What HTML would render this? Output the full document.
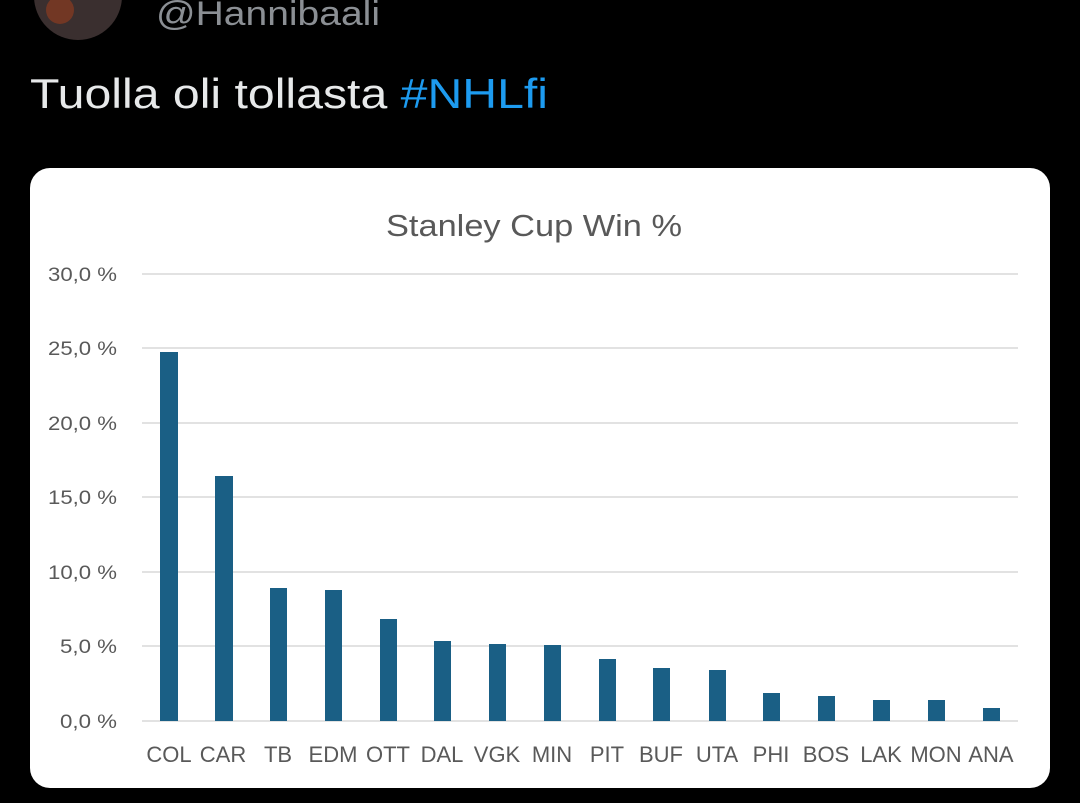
<!DOCTYPE html>
<html><head><meta charset="utf-8"><style>
html,body{margin:0;padding:0;background:#000;width:1080px;height:803px;overflow:hidden}
</style></head><body>
<svg width="1080" height="803" viewBox="0 0 1080 803" xmlns="http://www.w3.org/2000/svg" font-family="Liberation Sans, sans-serif">
<rect width="1080" height="803" fill="#000"/>
<circle cx="78" cy="-4" r="44" fill="#3a2f2f"/>
<circle cx="60" cy="10" r="14" fill="#8a3a20" opacity="0.7"/>
<text x="156" y="25" font-size="34" fill="#8b8f94" textLength="224" lengthAdjust="spacingAndGlyphs">@Hannibaali</text>
<text x="30" y="108" font-size="42" fill="#e7e9ea" textLength="518" lengthAdjust="spacingAndGlyphs">Tuolla oli tollasta <tspan fill="#1d9bf0">#NHLfi</tspan></text>
<rect x="30" y="168" width="1020" height="620" rx="20" fill="#fff"/>
<text x="386" y="236" font-size="31" fill="#595959" textLength="296" lengthAdjust="spacingAndGlyphs">Stanley Cup Win %</text>
<g stroke="#d9d9d9" stroke-width="1.5">
<line x1="142" x2="1018" y1="274" y2="274"/><line x1="142" x2="1018" y1="348" y2="348"/>
<line x1="142" x2="1018" y1="423" y2="423"/><line x1="142" x2="1018" y1="497" y2="497"/>
<line x1="142" x2="1018" y1="572" y2="572"/><line x1="142" x2="1018" y1="646" y2="646"/>
<line x1="142" x2="1018" y1="721" y2="721"/>
</g>
<g font-size="19" fill="#595959">
<text x="48" y="281" textLength="69" lengthAdjust="spacingAndGlyphs">30,0 %</text>
<text x="48" y="355" textLength="69" lengthAdjust="spacingAndGlyphs">25,0 %</text>
<text x="48" y="430" textLength="69" lengthAdjust="spacingAndGlyphs">20,0 %</text>
<text x="48" y="504" textLength="69" lengthAdjust="spacingAndGlyphs">15,0 %</text>
<text x="48" y="579" textLength="69" lengthAdjust="spacingAndGlyphs">10,0 %</text>
<text x="60" y="653" textLength="57" lengthAdjust="spacingAndGlyphs">5,0 %</text>
<text x="60" y="728" textLength="57" lengthAdjust="spacingAndGlyphs">0,0 %</text>
</g>
<g fill="#1a5f85">
<rect x="160" y="352" width="18" height="369"/>
<rect x="215" y="476" width="18" height="245"/>
<rect x="270" y="588" width="17" height="133"/>
<rect x="325" y="590" width="17" height="131"/>
<rect x="380" y="619" width="17" height="102"/>
<rect x="434" y="641" width="17" height="80"/>
<rect x="489" y="644" width="17" height="77"/>
<rect x="544" y="645" width="17" height="76"/>
<rect x="599" y="659" width="17" height="62"/>
<rect x="653" y="668" width="17" height="53"/>
<rect x="709" y="670" width="17" height="51"/>
<rect x="763" y="693" width="17" height="28"/>
<rect x="818" y="696" width="17" height="25"/>
<rect x="873" y="700" width="17" height="21"/>
<rect x="928" y="700" width="17" height="21"/>
<rect x="983" y="708" width="17" height="13"/>
</g>
<g font-size="22" fill="#595959" text-anchor="middle">
<text x="169" y="762">COL</text><text x="223" y="762">CAR</text><text x="278" y="762">TB</text>
<text x="333" y="762">EDM</text><text x="388" y="762">OTT</text><text x="442" y="762">DAL</text>
<text x="497" y="762">VGK</text><text x="552" y="762">MIN</text><text x="607" y="762">PIT</text>
<text x="661" y="762">BUF</text><text x="717" y="762">UTA</text><text x="771" y="762">PHI</text>
<text x="826" y="762">BOS</text><text x="881" y="762">LAK</text><text x="936" y="762">MON</text>
<text x="991" y="762">ANA</text>
</g>
</svg>
</body></html>
